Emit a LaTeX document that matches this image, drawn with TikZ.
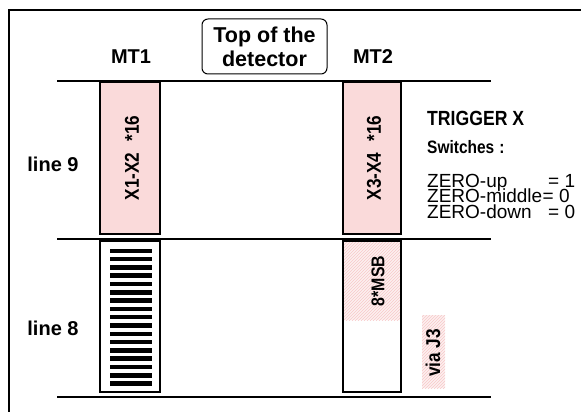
\documentclass[tikz,border=0pt]{standalone}
\usepackage{fontspec}
\setmainfont{Liberation Sans}
\newfontfamily\tallsans[FakeStretch=0.86]{Liberation Sans}
\usetikzlibrary{patterns}
\definecolor{pinkfill}{RGB}{250,218,218}
\definecolor{paleveil}{RGB}{253,240,240}
\definecolor{hatchpink}{RGB}{247,200,200}
\begin{document}
\begin{tikzpicture}[x=1pt,y=-1pt,
  lab/.style={font=\fontsize{20}{22}\selectfont\bfseries, inner sep=0pt},
  rotlab/.style={font=\tallsans\fontsize{20}{22}\selectfont\bfseries, inner sep=0pt, rotate=90},
  trig/.style={font=\tallsans\fontsize{20.5}{22}\selectfont\bfseries, inner sep=0pt, anchor=base west},
  zero/.style={font=\fontsize{19}{20}\selectfont, inner sep=0pt, anchor=base west},
  hline/.style={line width=1.3pt},
  upbox/.style={draw, line width=1.6pt, fill=pinkfill},
  lowbox/.style={draw, line width=1.6pt},
  hatchfill/.style={fill=paleveil, postaction={pattern=north east lines, pattern color=hatchpink}},
]
\useasboundingbox (0,0) rectangle (581,412);
\clip (0,0) rectangle (581,412);
\fill[white] (0,0) rectangle (581,412);
% outer frame (continues past the right and bottom edges)
\draw[line width=2.2pt] (9,10) rectangle (640,460);
% horizontal lines
\draw[hline] (57,81) -- (491,81);
\draw[hline] (57,239) -- (491,239);
\draw[hline] (57,397) -- (491,397);
% MT1 column
\draw[upbox] (100,82) rectangle (160,234);
\draw[lowbox] (100,241) rectangle (160,392);
\foreach \i in {0,...,16}
  \fill (110,{248.5+\i*8.3}) rectangle (152,{253+\i*8.3});
% MT2 column
\draw[upbox] (343,82) rectangle (401,234);
\fill[hatchfill] (343,241) rectangle (401,320);
\draw[lowbox] (343,241) rectangle (401,392);
\fill[hatchfill] (422,315) rectangle (445,388);
% labels
\node[lab] (mt1) at (131,57) {MT1};
\node[lab] (mt2) at (373,57) {MT2};
\node[draw, rounded corners=6pt, line width=1pt, minimum width=125pt, minimum height=55pt,
      align=center, font=\fontsize{21.5}{24}\selectfont\bfseries, inner sep=0pt] (top) at (264.5,46.5)
      {Top of the\\detector};
\node[lab] (l9) at (53,164) {line 9};
\node[lab] (l8) at (53,328) {line 8};
\node[rotlab] (x12) at (132,158) {X1-X2\hspace{11pt}*16};
\node[rotlab] (x34) at (374,158) {X3-X4\hspace{11pt}*16};
\node[rotlab, font=\tallsans\fontsize{18.5}{20}\selectfont\bfseries] (msb) at (378,281) {8*MSB};
\node[rotlab] (via) at (433,353) {via J3};
% trigger text
\node[trig] (tx) at (427,125) {TRIGGER X};
\node[trig, font=\tallsans\fontsize{18}{20}\selectfont\bfseries] (sw) at (427,153) {Switches\hspace{5pt}:};
\node[zero] (zu) at (427,187) {ZERO-up};
\node[zero] (zm) at (427,202.5) {ZERO-middle};
\node[zero] (zd) at (427,218) {ZERO-down};
\node[zero] (vu) at (548,187) {= 1};
\node[zero] (vm) at (zm.base east) {= 0};
\node[zero] (vd) at (548,218) {= 0};
\end{tikzpicture}
\end{document}
